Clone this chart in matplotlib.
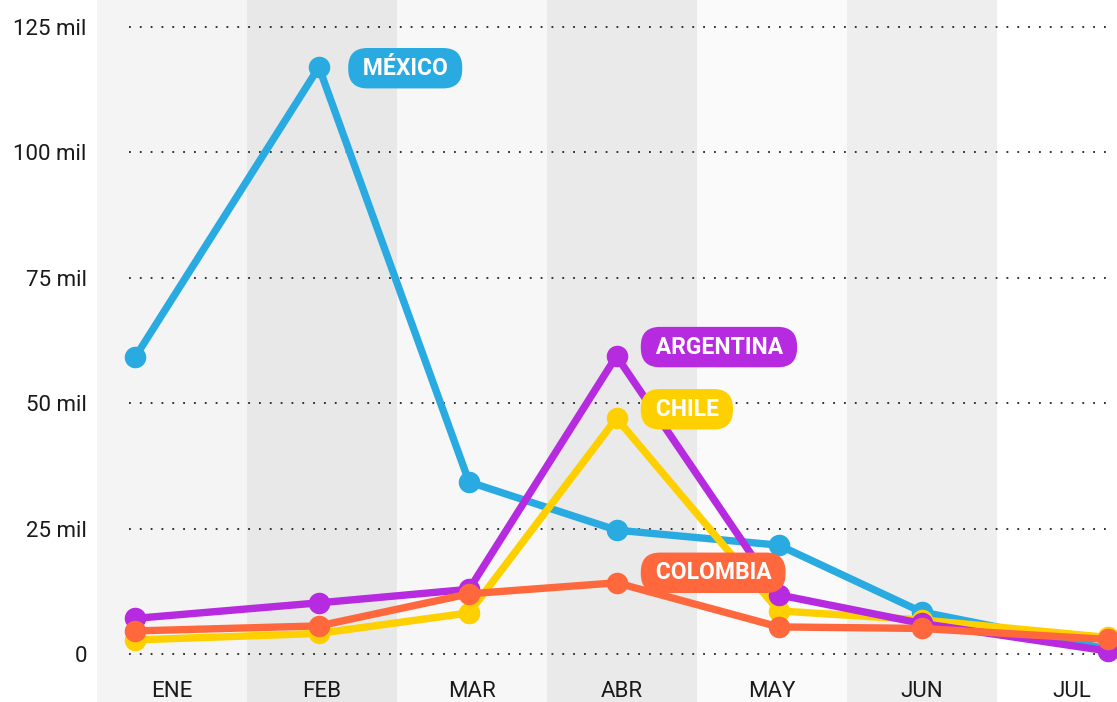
import matplotlib
matplotlib.use("Agg")
import matplotlib.pyplot as plt
from matplotlib.transforms import blended_transform_factory
import datetime as dt
import calendar

# ---- data ----
months = ["ENE", "FEB", "MAR", "ABR", "MAY", "JUN", "JUL"]
dates = ["2024-01-09", "2024-02-15", "2024-03-16", "2024-04-15",
         "2024-05-18", "2024-06-16", "2024-07-24"]
mexico = [59200, 117000, 34300, 24700, 21700, 8400, 1000]
argentina = [7100, 10200, 12900, 59400, 11800, 6100, 600]
chile = [2800, 4100, 8200, 47000, 8600, 6800, 3300]
colombia = [4600, 5600, 12000, 14200, 5400, 5100, 2900]
yticks = [0, 25000, 50000, 75000, 100000, 125000]
ytick_labels = ["0", "25 mil", "50 mil", "75 mil", "100 mil", "125 mil"]

series = [
    ("MÉXICO", mexico, "#29abe2", (38, -1)),
    ("CHILE", chile, "#ffd000", (33, 9)),
    ("ARGENTINA", argentina, "#b62ae0", (33, 9)),
    ("COLOMBIA", colombia, "#ff673d", (33, 10)),
]
label_at = {"MÉXICO": 1, "CHILE": 3, "ARGENTINA": 3, "COLOMBIA": 3}

band_colors = ["#f4f4f4", "#e8e8e8", "#f7f7f7", "#eaeaea", "#fafafa", "#eeeeee", "#ffffff"]


def month_pos(s):
    d = dt.date.fromisoformat(s)
    nd = calendar.monthrange(d.year, d.month)[1]
    return (d.month - 1) + (d.day - 1) / nd


xs = [month_pos(s) for s in dates]

plt.rcParams['font.family'] = ['Roboto', 'DejaVu Sans']

fig = plt.figure(figsize=(11.17, 7.02), dpi=100)
ax = fig.add_axes([96.5 / 1117, 0, 1 - 96.5 / 1117, 1])
ax.set_xlim(0, (1117 - 96.5) / 150)
ax.set_ylim(-9570, 130400)

for i, c in enumerate(band_colors):
    ax.axvspan(i, i + 1, color=c, lw=0, zorder=0)

for v in yticks:
    ax.axhline(v, xmin=0.032, xmax=0.993, color="#222222", lw=1.3,
               dashes=(1, 5), zorder=1)

for z, (name, vals, col, off) in enumerate(series):
    ax.plot(xs, vals, color=col, lw=5.3, marker="o", markersize=14.5,
            solid_capstyle="round", solid_joinstyle="round", zorder=3 + z)

for z, (name, vals, col, off) in enumerate(series):
    k = label_at[name]
    ax.annotate(" " + name + " ", xy=(xs[k], vals[k]), xytext=off,
                textcoords="offset pixels", ha="left", va="center",
                color="white", fontsize=16.5, fontweight="bold",
                bbox=dict(boxstyle="round,pad=0.38,rounding_size=0.84",
                          fc=col, ec="none"), zorder=10)

ax.set_yticks(yticks)
ax.set_yticklabels(ytick_labels)
ax.tick_params(axis="y", length=0, pad=7, labelsize=16, labelcolor="#1a1a1a")
ax.set_xticks([])
for s in ax.spines.values():
    s.set_visible(False)

trans = blended_transform_factory(ax.transData, ax.transAxes)
for i, m in enumerate(months):
    ax.text(i + 0.5, 0.0, m, transform=trans, ha="center", va="bottom",
            fontsize=16, color="#1a1a1a")

fig.savefig("out.png", dpi=100, facecolor="white")
